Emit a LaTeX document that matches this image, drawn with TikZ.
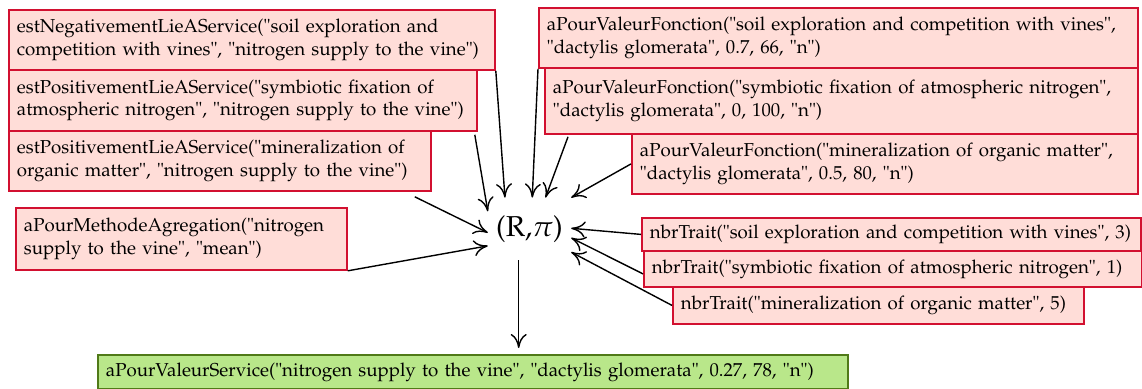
\documentclass[tikz,border=0pt]{standalone}
\usepackage[T1]{fontenc}
\usepackage{mathpazo}
\usetikzlibrary{arrows.meta}

\definecolor{predfill}{RGB}{255,221,216}
\definecolor{preddraw}{RGB}{210,16,48}
\definecolor{servfill}{RGB}{185,231,138}
\definecolor{servdraw}{RGB}{80,122,24}

\begin{document}
\begin{tikzpicture}[
		x=0.5pt, y=-0.5pt,
		every node/.style={rectangle, anchor=north west, align=left, inner xsep=4pt, inner ysep=0pt,
			font=\fontsize{9.35}{11.4}\selectfont},
		pred/.style={draw=preddraw, fill=predfill, line width=0.9pt},
		serv/.style={draw=servdraw, fill=servfill, line width=0.9pt},
		link/.style={-{To[length=7pt,width=8pt]}, line width=0.7pt}
	]
  \useasboundingbox (0,0) rectangle (1142,388);
  % left column
  \node (negSoil) [pred, text width=235pt, minimum height=30pt] at (8,9) {estNegativementLieAService("soil exploration and\\competition with vines", "nitrogen supply to the vine")};
  \node (posFix) [pred, text width=226pt, minimum height=30.5pt] at (8,69) {estPositivementLieAService("symbiotic fixation of\\atmospheric nitrogen", "nitrogen supply to the vine")};
  \node (posMin) [pred, text width=203pt, minimum height=30pt] at (8,130) {estPositivementLieAService("mineralization of\\organic matter", "nitrogen supply to the vine")};
  \node (aggMeth) [pred, text width=157.5pt, minimum height=31pt] at (15,207) {aPourMethodeAgregation("nitrogen\\supply to the vine", "mean")};
  % right column
  \node (valSoil) [pred, text width=291.5pt, minimum height=30pt] at (538,7) {aPourValeurFonction("soil exploration and competition with vines",\\"dactylis glomerata", 0.7, 66, "n")};
  \node (valFix) [pred, text width=288.5pt, minimum height=33pt] at (544,67) {aPourValeurFonction("symbiotic fixation of atmospheric nitrogen",\\"dactylis glomerata", 0, 100, "n")};
  \node (valMin) [pred, text width=245pt, minimum height=30pt] at (631,133) {aPourValeurFonction("mineralization of organic matter",\\"dactylis glomerata", 0.5, 80, "n")};
  \node (nbrSoil) [pred, text width=241.5pt, minimum height=16.5pt] at (641,217) {nbrTrait("soil exploration and competition with vines", 3)};
  \node (nbrFix) [pred, text width=241pt, minimum height=18pt] at (643,250) {nbrTrait("symbiotic fixation of atmospheric nitrogen", 1)};
  \node (nbrMin) [pred, text width=197.5pt, minimum height=18.5pt] at (672,286) {nbrTrait("mineralization of organic matter", 5)};
  % result
  \node (servVal) [serv, text width=367pt, minimum height=17pt] at (97,354) {aPourValeurService("nitrogen supply to the vine", "dactylis glomerata", 0.27, 78, "n")};
  \node (Rpi) [anchor=center, align=center, minimum width=40.5pt, minimum height=31pt, font=\Large] at (529.5,229) {(R,$\pi$)};

  \draw [link] (negSoil.south east) -- (Rpi.128);
  \draw [link] ([xshift=-1.5pt,yshift=-1.5pt]posFix.south east) -- (Rpi.157);
  \draw [link] ([xshift=-8.5pt,yshift=-2.5pt]posMin.south east) -- (Rpi.185);
  \draw [link] (aggMeth.south east) -- (Rpi.202);
  \draw [link] (valSoil.south west) -- (Rpi.85);
  \draw [link] ([xshift=12pt,yshift=-1pt]valFix.south west) -- (Rpi.63);
  \draw [link] (valMin.west) -- (Rpi.37);
  \draw [link] (nbrSoil.west) -- (Rpi.1);
  \draw [link] ([yshift=-2.5pt]nbrFix.west) -- (Rpi.348);
  \draw [link] (nbrMin.west) -- (Rpi.331);
  \draw [link, shorten >=3pt] (Rpi.251) -- (Rpi.251 |- servVal.north);
\end{tikzpicture}
\end{document}
